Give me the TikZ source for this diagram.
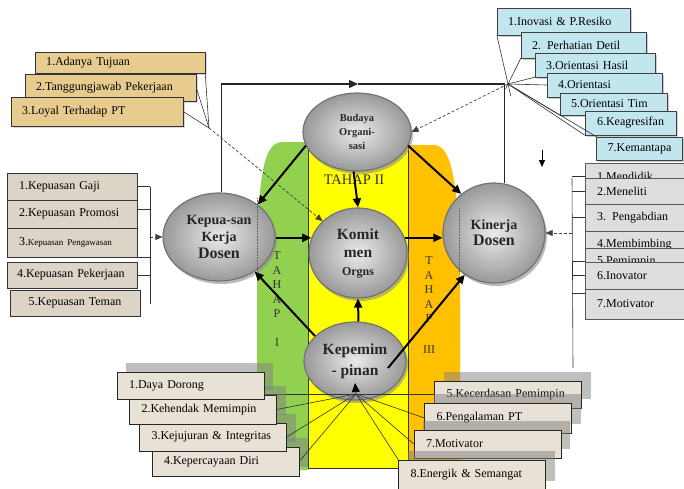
\documentclass[tikz,border=0pt]{standalone}
\usepackage{fontspec}
\setmainfont{Liberation Serif}
\usepackage{tikz}
\usetikzlibrary{shapes.geometric,arrows.meta,shadows,calc}
\definecolor{papyrus}{HTML}{E8CC8F}
\definecolor{iceblue}{HTML}{C2E6EE}
\definecolor{canvasgray}{HTML}{DCD4C6}
\definecolor{marblegray}{HTML}{DEDEDE}
\definecolor{canvaslight}{HTML}{E8E2D6}
\definecolor{bandgreen}{HTML}{92D050}
\definecolor{bandyellow}{HTML}{FFFF00}
\definecolor{bandorange}{HTML}{FFC000}

\begin{document}
\begin{tikzpicture}[x=1pt, y=-1pt,
  every node/.style={font=\fontsize{12}{14}\selectfont},
  tlbox/.style={draw=black!80, fill=papyrus, inner xsep=11pt, inner ysep=0pt,
                align=left, drop shadow={shadow xshift=2pt, shadow yshift=-2pt, opacity=.3}},
  trbox/.style={draw=black!75, fill=iceblue, inner xsep=11pt, inner ysep=0pt,
                align=left, drop shadow={shadow xshift=1.5pt, shadow yshift=-1.5pt, opacity=.4}},
  lbox/.style={draw=black!80, fill=canvasgray, inner xsep=12pt, inner ysep=0pt,
               text width=106pt, align=left},
  rbox/.style={draw=black!65, fill=marblegray, inner xsep=12pt, inner ysep=0pt,
               text width=86pt, align=left, anchor=west},
  pbox/.style={draw=black!85, fill=canvaslight, inner xsep=12pt, inner ysep=0pt,
               text width=123pt, align=left,
               drop shadow={shadow xshift=9pt, shadow yshift=9pt, fill=black!50, opacity=.5}},
  var/.style={ellipse, draw=black!55, line width=1.2pt, inner sep=0pt, align=center,
              inner color=white!92!black, outer color=black!40, text=black!85,
              drop shadow={shadow xshift=2pt, shadow yshift=-3pt, fill=black!45, opacity=.6}},
  arr/.style={-{Triangle[length=9pt,width=8pt]}, line width=2pt},
  fb/.style={-{Triangle[length=9pt,width=8pt]}, line width=1.4pt, draw=black!85},
  dsh/.style={-{Triangle[length=7pt,width=6pt]}, dash pattern=on 3pt off 2pt,
              line width=.7pt, draw=black!75},
  fan/.style={line width=.6pt, draw=black!80},
  tahap/.style={font=\fontsize{12}{14.5}\selectfont\color{black!80}, align=center}
]
  \useasboundingbox (0,0) rectangle (684,488);
  \clip (0,0) rectangle (684,488);

  % three stages
  \fill[bandgreen] (308,470) -- (257,470) -- (257,250)
    .. controls (259,185) and (262,142) .. (282,142) -- (308,142) -- cycle;
  \fill[bandorange] (408,470) -- (460,470) -- (460,250)
    .. controls (457,185) and (452,145) .. (434,145) -- (408,145) -- cycle;
  \filldraw[fill=bandyellow, draw=black!80, line width=.6pt] (308,140) rectangle (408,468);

  \node[tahap, font=\fontsize{14.5}{16}\selectfont\color{black!80}] (t2) at (354,180) {TAHAP II};
  \node[tahap] (t1) at (277,299) {T\\A\\H\\A\\P\\[14pt]I};
  \node[tahap] (t3) at (429,305) {T\\A\\H\\A\\P\\[16pt]III};

  \coordinate (top) at (358,84);
  \coordinate (tlc) at (209,128);
  \coordinate (trc) at (508,84);
  \coordinate (lbt) at (150,187);
  \coordinate (lbb) at (150,304);
  \coordinate (rbt) at (572,178);
  \coordinate (rbb) at (573,368);
  \coordinate (conv) at (356,394);
  \coordinate (convtip) at (355,383);
  \coordinate (dn1) at (542,150);
  \coordinate (dn2) at (542,167);

  \node[var, minimum width=108pt, minimum height=78pt,
        font=\bfseries\fontsize{10.5}{14}\selectfont] (bud) at (357,132)
    {Budaya\\Organi-\\sasi};
  \node[var, minimum width=112pt, minimum height=88pt,
        font=\bfseries\fontsize{14}{17}\selectfont] (kep) at (219,237)
    {Kepua-san\\Kerja\\\fontsize{16}{19}\selectfont Dosen};
  \node[var, minimum width=98pt, minimum height=90pt,
        font=\bfseries\fontsize{15.5}{18}\selectfont] (kom) at (358,253)
    {Komit\\men\\\fontsize{12}{17}\selectfont Orgns};
  \node[var, minimum width=102pt, minimum height=100pt,
        font=\bfseries\fontsize{14}{16}\selectfont] (kin) at (494,233)
    {Kinerja\\\fontsize{16}{17}\selectfont Dosen};
  \node[var, minimum width=102pt, minimum height=78pt,
        font=\bfseries\fontsize{15.5}{21}\selectfont] (pim) at (355,361)
    {Kepemim\\- pinan};

  \draw[densely dotted, black!60, line width=.5pt] (257,198) -- (257,278);
  \draw[densely dotted, black!60, line width=.5pt] (459,208) -- (459,273);

  \draw[fb] (kep.87) |- (top);
  \draw[line width=1.4pt, draw=black!85] (top) -| (kin.78);

  \draw[arr] (bud.195) -- (kep.40);
  \draw[arr] (bud.265) -- (kom.north);
  \draw[arr] (bud.345) -- (kin.130);
  \draw[arr] (kom.162 -| kep.east) -- (kom.162);
  \draw[arr] (kom.18) -- (kom.18 -| kin.west);
  \draw[arr] (pim.148) -- (kep.316);
  \draw[arr] (pim.85) -- (kom.south);
  \draw[arr] ([shift={(33,7)}]pim.center) -- (kin.235);

  \draw[dsh] (tlc) -- (kom.138);
  \draw[dsh] (trc) -- (bud.east);
  \draw[dsh] (kin.east -| rbt) -- (kin.east);
  \draw[dsh] (kep.west -| lbt) -- (kep.west);
  \draw[-{Triangle[length=7pt,width=6pt]}, line width=.8pt] (dn1) -- (dn2);

  % budaya organisasi
  \node[tlbox, minimum height=21pt, text width=148pt] (tu1) at (120,62.5) {1.Adanya Tujuan};
  \node[tlbox, minimum height=27pt, text width=149pt] (tu2) at (110.5,87.5) {2.Tanggungjawab Pekerjaan};
  \node[tlbox, minimum height=29pt, text width=150pt] (tu3) at (97,111.5) {3.Loyal Terhadap PT};
  \draw[fan] (tu1.south east) -- (tlc);
  \draw[fan] (tu2.east) -- (tlc);
  \draw[fan] (tu3.east) -- (tlc);

  \node[trbox, minimum height=27pt, text width=111pt] (b1) at (563.5,21.5) {1.Inovasi \& P.Resiko};
  \node[trbox, minimum height=26pt, text width=103pt] (b2) at (583.5,45) {2. Perhatian Detil};
  \node[trbox, minimum height=24pt, text width=98pt] (b3) at (595,65) {3.Orientasi Hasil};
  \node[trbox, minimum height=24pt, text width=93pt] (b4) at (604.5,85) {4.Orientasi};
  \node[trbox, minimum height=22pt, text width=85pt] (b5) at (613.5,104) {5.Orientasi Tim};
  \node[trbox, minimum height=24pt, minimum width=91pt] (b6) at (630.5,123) {6.Keagresifan};
  \node[trbox, minimum height=23pt, minimum width=85pt] (b7) at (639.5,148.5) {7.Kemantapa};
  \draw[fan] (b1.south west) -- ($(b1.south west)!1.25!(trc)$);
  \draw[fan] (b2.south west) -- ($(b2.south west)!1.2!(trc)$);
  \draw[fan] (b3.south west) -- (trc);
  \draw[fan] (b4.west) -- (trc);
  \draw[fan] (b5.south west) -- (trc);
  \draw[fan] (b6.south west) -- (trc);
  \draw[fan] (b7.north west) -- (trc);

  % kepuasan kerja
  \node[lbox, minimum height=27pt] (k1) at (72,186.5) {1.Kepuasan Gaji};
  \node[lbox, minimum height=28pt] (k2) at (72,214) {2.Kepuasan Promosi};
  \node[lbox, minimum height=29pt] (k3) at (72,242.5)
    {3.{\fontsize{9}{11}\selectfont Kepuasan Pengawasan}};
  \node[lbox, minimum height=26pt, inner xsep=10pt, text width=110pt] (k4) at (72,275)
    {\mbox{4.Kepuasan Pekerjaan}};
  \node[lbox, minimum height=26pt, align=center] (k5) at (75,303) {5.Kepuasan Teman};
  \draw[fan] (lbt) -- (lbb);
  \draw[fan] (k1.east) -- (k1.east -| lbt);
  \draw[fan] ([yshift=5pt]k2.east) -- ([yshift=5pt]k2.east -| lbt);
  \draw[fan] (k3.south east) -- (k3.south east -| lbt);
  \draw[fan] (k4.east) -- (k4.east -| lbt);

  % kinerja dosen
  \node[rbox, minimum height=27pt] (r1) at (585,176.5) {1.Mendidik};
  \node[rbox, minimum height=26pt] (r2) at (585,191) {2.Meneliti};
  \node[rbox, minimum height=27pt] (r3) at (585,217.5) {3. Pengabdian};
  \node[rbox, minimum height=27pt] (r4) at (585,244.5) {4.Membimbing};
  \node[rbox, minimum height=27pt] (r5) at (585,261.5) {5.Pemimpin};
  \node[rbox, minimum height=27pt] (r6) at (585,275.5) {6.Inovator};
  \node[rbox, minimum height=30pt] (r7) at (585,304) {7.Motivator};
  \draw[fan] (rbt) -- (rbb);
  \draw[fan] (r1.west) -- (r1.west -| rbt);
  \draw[fan] (r2.west) -- (r2.west -| rbt);
  \draw[fan] (r3.west) -- (r3.west -| rbt);
  \draw[fan] (r5.west) -- (r5.west -| rbt);
  \draw[fan] (r6.west) -- (r6.west -| rbt);
  \draw[fan] ([yshift=11pt]r7.west) -- ([yshift=11pt]r7.west -| rbt);

  % kepemimpinan
  \draw[fan] (conv) -- (conv -| 264,0);
  \draw[fan] (conv) -- (conv -| 434,0);
  \node[pbox, minimum height=29pt] (p4) at (225.5,461.5) {4.Kepercayaan Diri};
  \node[pbox, minimum height=28pt] (p3) at (213,437) {3.Kejujuran \& Integritas};
  \node[pbox, minimum height=29pt] (p2) at (203,409.5) {2.Kehendak Memimpin};
  \node[pbox, minimum height=27pt] (p1) at (190.5,385.5) {1.Daya Dorong};
  \node[pbox, minimum height=27pt] (p5) at (508,394.5) {5.Kecerdasan Pemimpin};
  \node[pbox, minimum height=30pt] (p6) at (498,418) {6.Pengalaman PT};
  \node[pbox, minimum height=28pt] (p7) at (487.5,444) {7.Motivator};
  \node[pbox, minimum height=30pt] (p8) at (472,475) {8.Energik \& Semangat};
  \draw[fan] (p2.east) -- (conv);
  \draw[fan] (p3.east) -- (conv);
  \draw[fan] (p4.east) -- (conv);
  \draw[fan] (p6.west) -- (conv);
  \draw[fan] (p7.west) -- (conv);
  \draw[fan] (p8.north west) -- (conv);
  \draw[-{Triangle[length=9pt,width=8pt]}, line width=.6pt] (conv) -- (convtip);

\end{tikzpicture}
\end{document}
